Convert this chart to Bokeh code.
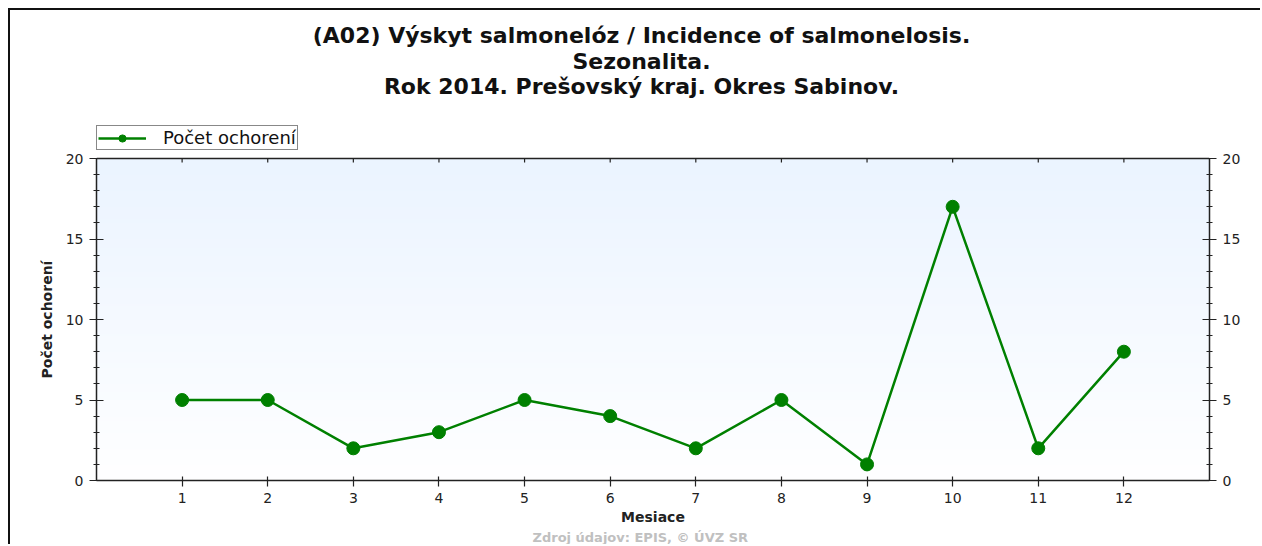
import numpy as np
from bokeh.plotting import figure
from bokeh.models import (LinearAxis, FixedTicker, Range1d, Title, Label, Legend, LegendItem,
                          ColumnDataSource, Span)
from bokeh.embed import file_html
from bokeh.resources import INLINE

# ---- data ----
months = [1, 2, 3, 4, 5, 6, 7, 8, 9, 10, 11, 12]
cases = [5, 5, 2, 3, 5, 4, 2, 5, 1, 17, 2, 8]
y_ticks = [0, 5, 10, 15, 20]
title_lines = ["(A02) Výskyt salmonelóz / Incidence of salmonelosis.",
               "Sezonalita.",
               "Rok 2014. Prešovský kraj. Okres Sabinov."]
series_name = "Počet ochorení"
x_label = "Mesiace"
y_label = "Počet ochorení"
footer = "Zdroj údajov: EPIS, © ÚVZ SR"

X0, X1 = 0, 13
Y0, Y1 = 0, 20

GREEN = "#008000"
AXC = "#222222"
TICK_FONT = "DejaVu Sans"

# layout (pixels)
W, H = 1252, 536
ML, MR, MB = 86, 53, 66
FRAME_H = H - MB               # frame reaches the top of the canvas
PLOT_H = 322                   # height of the 0..20 plotting band
y_top = Y1 * FRAME_H / PLOT_H  # headroom inside the frame for titles + legend
px = Y1 / PLOT_H               # data units per pixel

p = figure(width=W, height=H, output_backend="svg", toolbar_location=None,
           x_range=Range1d(X0, X1), y_range=Range1d(Y0, y_top),
           x_axis_location=None, y_axis_location=None,
           min_border_left=ML, min_border_top=0, min_border_right=MR, min_border_bottom=MB)
p.styles = {"margin-left": "8px", "margin-top": "8px",
            "border-top": "2px solid #111", "border-left": "2px solid #111"}
p.outline_line_color = None
p.xgrid.visible = False
p.ygrid.visible = False
p.background_fill_color = "white"
p.border_fill_color = "white"

# gradient background of the plotting band
n = 200
top_c = np.array([235, 244, 255])
bot_c = np.array([255, 255, 255])
img = np.empty((n, 1), dtype=np.uint32)
view = img.view(dtype=np.uint8).reshape((n, 1, 4))
for i, t in enumerate(np.linspace(0, 1, n)):
    c = bot_c + (top_c - bot_c) * t
    view[i, 0, :3] = c.astype(np.uint8)
    view[i, 0, 3] = 255
p.image_rgba(image=[img], x=X0, y=Y0, dw=X1 - X0, dh=Y1 - Y0)

# top border line + inward ticks
p.add_layout(Span(location=Y1, dimension="width", line_color=AXC, line_width=1.5))
p.segment(x0=months, y0=[Y1] * len(months), x1=months, y1=[Y1 - 4 * px] * len(months),
          line_color=AXC, line_width=1.2)

src = ColumnDataSource(dict(x=months, y=cases))
ln = p.line("x", "y", source=src, line_color=GREEN, line_width=2.5)
sc = p.scatter("x", "y", source=src, size=13, fill_color=GREEN, line_color=GREEN)

def style_axis(ax, tin, tout, minor=False):
    ax.axis_line_color = AXC
    ax.axis_line_width = 1.5
    ax.major_tick_line_color = AXC
    ax.major_tick_line_width = 1.2
    ax.major_tick_in = tin
    ax.major_tick_out = tout
    if minor:
        ax.minor_tick_line_color = AXC
        ax.minor_tick_line_width = 1.2
        ax.minor_tick_in = 3
        ax.minor_tick_out = 3
    else:
        ax.minor_tick_line_color = None
    ax.major_label_text_font = TICK_FONT
    ax.major_label_text_font_size = "14px"
    ax.major_label_text_color = AXC

xt = FixedTicker(ticks=months, minor_ticks=[])
yt = FixedTicker(ticks=y_ticks, minor_ticks=list(range(Y0, Y1 + 1)))

bx = LinearAxis(ticker=xt, axis_label=x_label)
style_axis(bx, 4, 6)
bx.major_label_standoff = 6
bx.axis_label_standoff = 3
bx.axis_label_text_font = TICK_FONT
bx.axis_label_text_font_style = "bold"
bx.axis_label_text_font_size = "14px"
bx.axis_label_text_color = AXC
p.add_layout(bx, "below")

ly = LinearAxis(ticker=yt, bounds=(Y0, Y1))
style_axis(ly, 7, 7, minor=True)
ly.major_label_standoff = 6
p.add_layout(ly, "left")

# y-axis title, placed along the 0..20 band (offset measured from frame bottom)
p.add_layout(Title(text=y_label, align="left", offset=102, standoff=16,
                   vertical_align="bottom",
                   text_font=TICK_FONT, text_font_style="bold",
                   text_font_size="14px", text_color=AXC), "left")

ry = LinearAxis(ticker=yt, bounds=(Y0, Y1))
style_axis(ry, 7, 7, minor=True)
ry.major_label_standoff = 6
p.add_layout(ry, "right")

# titles (frame-relative screen units, from frame bottom)
for txt, yy in zip(title_lines, [445, 419, 394]):
    p.add_layout(Label(x=545, y=yy, x_units="screen", y_units="screen", text=txt,
                       text_align="center", text_baseline="middle",
                       text_font="DejaVu Sans", text_font_style="bold",
                       text_font_size="22px", text_color="#111111"))

legend = Legend(items=[LegendItem(label=series_name, renderers=[ln, sc])],
                location=(0, PLOT_H + 8), orientation="vertical",
                border_line_color="#111111", border_line_width=1,
                background_fill_color="white", background_fill_alpha=1,
                padding=1, margin=0, spacing=0,
                glyph_width=48, glyph_height=18, label_standoff=17,
                label_text_font=TICK_FONT, label_text_font_size="18px",
                label_text_color="#111111", label_height=18)
p.add_layout(legend, "center")

p.add_layout(Title(text=footer, align="left", offset=436,
                   text_font=TICK_FONT, text_font_style="bold",
                   text_font_size="13px", text_color="#c0c0c0", standoff=0), "below")

open("out.html", "w").write(file_html(p, INLINE))
